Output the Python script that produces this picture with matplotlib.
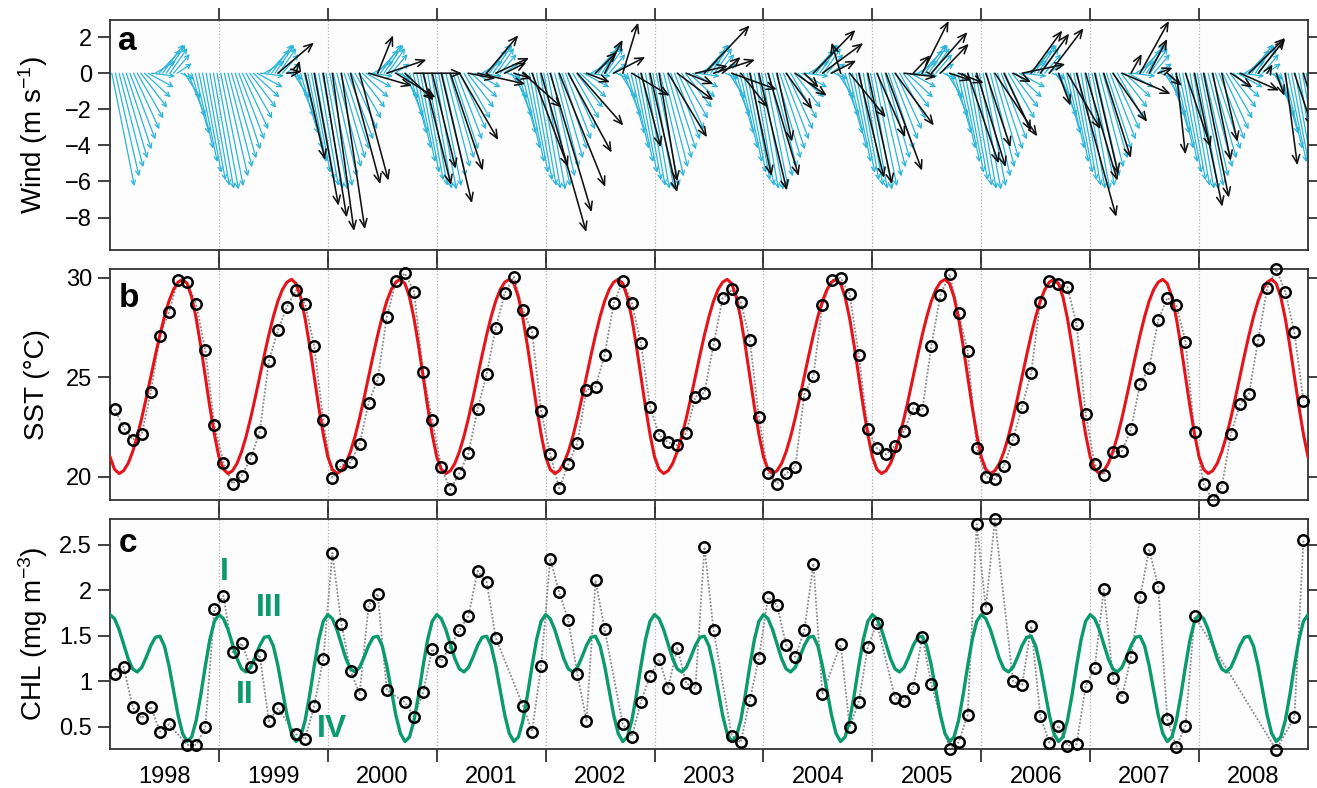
import numpy as np
import matplotlib
matplotlib.use('Agg')
import matplotlib.pyplot as plt
from matplotlib.patches import FancyArrowPatch, ArrowStyle

plt.rcParams['font.family'] = ['Liberation Sans', 'DejaVu Sans']
plt.rcParams['mathtext.fontset'] = 'custom'
plt.rcParams['mathtext.rm'] = 'Liberation Sans'
plt.rcParams['mathtext.it'] = 'Liberation Sans:italic'
plt.rcParams['mathtext.bf'] = 'Liberation Sans:bold'

nan = np.nan

# --- data ---
years = np.arange(1998, 2009)
year_labels = [str(y) for y in years]

# monthly SST (deg C), Jan 1998 - Dec 2008
sst = [23.4, 22.46, 21.86, 22.16, 24.27, 27.09, 28.29, 29.87, 29.77, 28.66, 26.35, 22.6,
       20.70, 19.65, 20.05, 20.92, 22.26, 25.81, 27.36, 28.54, 29.38, 28.68, 26.58, 22.83,
       19.95, 20.59, 20.72, 21.64, 23.72, 24.91, 28.04, 29.83, 30.22, 29.30, 25.28, 22.83,
       20.47, 19.37, 20.17, 21.19, 23.4, 25.15, 27.49, 29.22, 30.05, 28.38, 27.29, 23.32,
       21.12, 19.42, 20.62, 21.71, 24.36, 24.52, 26.12, 28.71, 29.83, 28.74, 26.70, 23.52,
       22.10, 21.73, 21.59, 22.21, 24.02, 24.22, 26.65, 28.96, 29.41, 28.79, 26.87, 22.98,
       20.20, 19.65, 20.17, 20.49, 24.14, 25.06, 28.63, 29.87, 30.0, 29.18, 26.12, 22.38,
       21.43, 21.12, 21.56, 22.3, 23.44, 23.35, 26.58, 29.13, 30.19, 28.21, 26.32, 21.46,
       20.0, 19.88, 20.54, 21.88, 23.52, 25.23, 28.76, 29.85, 29.68, 29.53, 27.66, 23.17,
       20.62, 20.09, 21.26, 21.29, 22.40, 24.67, 25.48, 27.87, 28.99, 28.63, 26.78, 22.23,
       19.62, 18.81, 19.50, 22.13, 23.64, 24.17, 26.85, 29.47, 30.44, 29.3, 27.26, 23.82]

# monthly CHL (mg m-3), gaps where no data
chl = [1.075, 1.158, 0.713, 0.592, 0.719, 0.445, 0.526, nan, 0.30, 0.30, 0.493, 1.79,
       1.937, 1.316, 1.414, 1.158, 1.286, 0.563, 0.70, nan, 0.417, 0.365, 0.731, 1.242,
       2.408, 1.63, 1.114, 0.862, 1.834, 1.959, 0.899, nan, 0.767, 0.61, 0.877, 1.352,
       1.22, 1.378, 1.56, 1.717, 2.21, 2.09, 1.476, nan, nan, 0.73, 0.445, 1.166,
       2.346, 1.974, 1.67, 1.075, 0.566, 2.105, 1.568, nan, 0.526, 0.39, 0.774, 1.056,
       1.24, 0.921, 1.366, 0.976, 0.921, 2.474, 1.56, nan, 0.401, 0.329, 0.793, 1.257,
       1.919, 1.834, 1.396, 1.268, 1.557, 2.29, 0.855, nan, 1.403, 0.493, 0.774, 1.378,
       1.634, nan, 0.818, 0.782, 0.928, 1.487, 0.965, nan, 0.255, 0.329, 0.628, 2.723,
       1.805, 2.777, nan, 1.0, 0.957, 1.604, 0.621, 0.325, 0.511, 0.292, 0.307, 0.943,
       1.147, 2.01, 1.037, 0.822, 1.268, 1.919, 2.449, 2.032, 0.581, 0.281, 0.511, 1.714,
       nan, nan, nan, nan, nan, nan, nan, nan, 0.245, nan, 0.606, 2.55]

# climatological annual cycles (24 steps per year)
sst_clim = [21.0, 20.37, 20.16, 20.30, 20.67, 21.26, 22.03, 22.95, 23.97, 25.04, 26.11, 27.13,
            28.05, 28.83, 29.41, 29.78, 29.92, 29.71, 29.03, 27.95, 26.57, 25.04, 23.51, 22.13]
chl_clim = [1.73, 1.686, 1.567, 1.405, 1.246, 1.134, 1.101, 1.151, 1.264, 1.391, 1.481, 1.493,
            1.385, 1.169, 0.895, 0.626, 0.425, 0.337, 0.387, 0.569, 0.848, 1.166, 1.456, 1.657]

# climatological wind (30 steps per year), m s-1
u_clim = [1.255, 1.31, 1.34, 1.365, 1.39, 1.41, 1.43, 1.45, 1.46, 1.45,
          1.42, 1.30, 1.14, 1.19, 1.165, 1.06, 0.97, 0.90, 0.81, 0.75,
          0.89, 0.95, 0.97, 0.99, 1.02, 1.04, 1.065, 1.09, 1.13, 1.19]
v_clim = [-6.26, -5.72, -5.21, -4.72, -4.22, -3.67, -3.11, -2.51, -1.91, -1.34,
          -0.78, -0.16, 0.68, 1.28, 1.60, 1.57, 1.39, 1.06, 0.54, -0.33,
          -1.39, -2.41, -3.36, -4.18, -4.93, -5.52, -5.94, -6.24, -6.41, -6.45]

# monthly observed wind, Jan 1998 - Dec 2008 (no data before Jul 1999)
u_obs = [nan] * 18 + [
    2.0, 0.8, 0.2, 1.1, 1.35, 1.3,
    1.2, 1.3, 1.65, 1.6, 2.4, 0.85, 2.2, 2.2, 1.6, 2.65, 1.55, 1.3,
    1.7, 1.8, 2.15, 1.5, 2.65, 1.75, 1.85, 1.2, 1.0, 2.15, 2.0, 2.5,
    2.3, 2.55, 2.4, 2.55, 1.3, 1.2, 1.0, 1.75, 0.85, 2.1, 1.1, 1.5,
    1.0, 2.15, 2.0, 1.5, 1.8, 2.5, 2.3, 1.0, 2.5, 1.5, 1.2, 1.55,
    1.7, 0.83, 1.45, 1.75, 0.8, 2.33, 2.26, 1.37, -0.5, 2.0, 1.4, 1.34,
    1.57, 2.0, 2.15, 1.8, 0.95, 1.46, 2.0, 1.57, 1.2, 1.4, 1.72, 1.6,
    1.37, 2.35, 1.5, 1.0, 2.4, 1.72, 1.6, 1.9, 0.67, 1.83, 2.2, 1.76,
    1.3, 1.5, 1.9, 2.7, 0.6, 1.6, 1.0, 0.8, 0.8, 0.5, 1.4, 1.54,
    1.4, 1.0, 0.87, 1.2, 2.17, 2.0, 1.5, 0.3, 0.45, 0.67, 1.0, 1.2]
v_obs = [nan] * 18 + [
    1.7, 0.1, 0.7, -4.8, -7.35, -8.0,
    -8.75, -8.65, -6.15, -5.95, -0.7, 2.1, 0.75, -1.35, -1.5, 0.0, -6.2, -5.3,
    -7.2, -5.4, -3.7, -0.3, -0.6, 2.1, 0.85, 0.6, -0.3, -1.9, -5.2, -8.8,
    -7.7, -6.3, -4.4, -2.9, -0.5, 1.2, 1.85, 0.9, 2.8, -1.25, -4.1, -6.6,
    -6.0, -3.55, -1.5, -0.6, 0.4, 2.65, 0.75, 0.9, -0.9, -1.9, -5.7, -6.5,
    -5.7, -3.8, -2.0, -1.25, -0.8, 2.4, 1.67, 0.7, 1.7, -2.45, -5.8, -6.15,
    -3.55, -5.4, -2.9, -0.2, 1.0, 2.9, 2.28, 1.63, -0.4, -0.55, -5.0, -5.2,
    -4.1, -3.5, -3.2, -0.5, 0.5, 2.37, 2.2, 2.5, -1.8, -3.1, -7.96, -5.96,
    -5.6, -4.7, -2.7, -1.15, 1.07, 2.9, 1.9, 0.3, -0.7, -4.5, -4.1, -7.4,
    -6.9, -4.85, -3.8, -0.8, -0.96, 1.96, 1.9, 0.5, -1.25, -5.1, -3.0, -4.0]

# --- time axes ---
n_wind = len(u_clim)
t_month = 1998 + (np.arange(len(sst)) + 0.5) / 12
t_clim24 = 1998 + np.arange(len(years) * 24 + 1) / 24
t_wind = 1998 + (np.arange(len(years) * n_wind) + 0.5) / n_wind

sst = np.array(sst)
chl = np.array(chl)
sst_line = np.append(np.tile(sst_clim, len(years)), sst_clim[0])
chl_line = np.append(np.tile(chl_clim, len(years)), chl_clim[0])
u_c = np.tile(u_clim, len(years))
v_c = np.tile(v_clim, len(years))
u_obs = np.array(u_obs)
v_obs = np.array(v_obs)

# --- figure ---
W, H = 1317, 788
fig = plt.figure(figsize=(W / 100, H / 100), dpi=100)
left, width = 110 / W, 1198 / W
ax_a = fig.add_axes([left, 1 - 250 / H, width, 230 / H])
ax_b = fig.add_axes([left, 1 - 500 / H, width, 231 / H])
ax_c = fig.add_axes([left, 1 - 749 / H, width, 230 / H])

spine_col = '#333333'
for ax in (ax_a, ax_b, ax_c):
    ax.set_xlim(1998, 2009)
    ax.set_facecolor('#fdfdfd')
    for s in ax.spines.values():
        s.set_color(spine_col)
        s.set_linewidth(1.3)
    ax.set_xticks(np.arange(1999, 2009))
    ax.set_xticklabels([])
    ax.grid(axis='x', which='major', color='#b0b0b0', ls=':', lw=0.9)
    ax.tick_params(axis='x', which='major', top=True, bottom=True, direction='out',
                   length=9, width=1.3, color=spine_col)
    ax.tick_params(axis='y', left=True, right=True, direction='out', length=9,
                   width=1.3, color=spine_col, labelsize=17, pad=4)
    ax.set_axisbelow(True)

# year labels centred in each year
ax_c.set_xticks(years + 0.5, year_labels, minor=True)
ax_c.tick_params(axis='x', which='minor', length=0, labelsize=17, pad=12)

# --- panel a: wind sticks ---
ax_a.set_ylim(-9.8, 2.95)
ax_a.set_yticks([-8, -6, -4, -2, 0, 2])
ax_a.set_ylabel('Wind (m s$^{-1}$)', fontsize=20)

# same pixel length per m s-1 in x and y
bb = ax_a.get_position()
px_per_year = bb.width * W / 11
px_per_unit = bb.height * H / (2.95 + 9.8)
k = px_per_unit / px_per_year

cyan_style = ArrowStyle('->', head_length=0.32, head_width=0.16)
for t, u, v in zip(t_wind, u_c, v_c):
    p = FancyArrowPatch((t, 0), (t + u * k, v), arrowstyle=cyan_style,
                        mutation_scale=10, color='#2ab4da', lw=0.9,
                        shrinkA=0, shrinkB=0, zorder=2)
    ax_a.add_patch(p)

black_style = ArrowStyle('->', head_length=0.6, head_width=0.26)
for t, u, v in zip(t_month, u_obs, v_obs):
    if np.isnan(u):
        continue
    p = FancyArrowPatch((t, 0), (t + u * k, v), arrowstyle=black_style,
                        mutation_scale=10, color='#111111', lw=1.15,
                        shrinkA=0, shrinkB=0, zorder=3)
    ax_a.add_patch(p)

# --- panel b: SST ---
ax_b.set_ylim(18.83, 30.44)
ax_b.set_yticks([20, 25, 30])
ax_b.set_ylabel('SST (°C)', fontsize=20)
ax_b.plot(t_month, sst, color='#8a8a8a', ls=(0, (1, 1)), lw=1.3, zorder=2)
ax_b.plot(t_clim24, sst_line, color='#e5141b', lw=2.2, zorder=3)
ax_b.plot(t_month, sst, 'o', mfc='none', mec='black', ms=7.5, mew=1.8,
          zorder=4, clip_on=False)

# --- panel c: CHL ---
ok = ~np.isnan(chl)
ax_c.set_ylim(0.255, 2.78)
ax_c.set_yticks([0.5, 1, 1.5, 2, 2.5], ['0.5', '1', '1.5', '2', '2.5'])
ax_c.set_ylabel('CHL (mg m$^{-3}$)', fontsize=20)
ax_c.plot(t_month[ok], chl[ok], color='#8a8a8a', ls=(0, (1, 1)), lw=1.3, zorder=2)
ax_c.plot(t_clim24, chl_line, color='#0a9a6e', lw=2.4, zorder=3)
ax_c.plot(t_month[ok], chl[ok], 'o', mfc='none', mec='black', ms=7.5, mew=1.8,
          zorder=4, clip_on=False)

green = '#0a9a6e'
for txt, tx, ty in [('I', 1999.05, 2.2), ('II', 1999.24, 0.85),
                    ('III', 1999.46, 1.80), ('IV', 2000.04, 0.48)]:
    ax_c.text(tx, ty, txt, color=green, fontsize=23, fontweight='bold',
              ha='center', va='center', zorder=5)

# panel letters
for ax, lab, yb in [(ax_a, 'a', 0.87), (ax_b, 'b', 0.837), (ax_c, 'c', 0.858)]:
    ax.text(0.007, yb, lab, transform=ax.transAxes, fontsize=24,
            fontweight='bold', va='baseline', ha='left', zorder=6)

for ax in (ax_a, ax_b, ax_c):
    ax.yaxis.set_label_coords(-0.05, 0.5)

fig.savefig('out.png', dpi=100, facecolor='white')
